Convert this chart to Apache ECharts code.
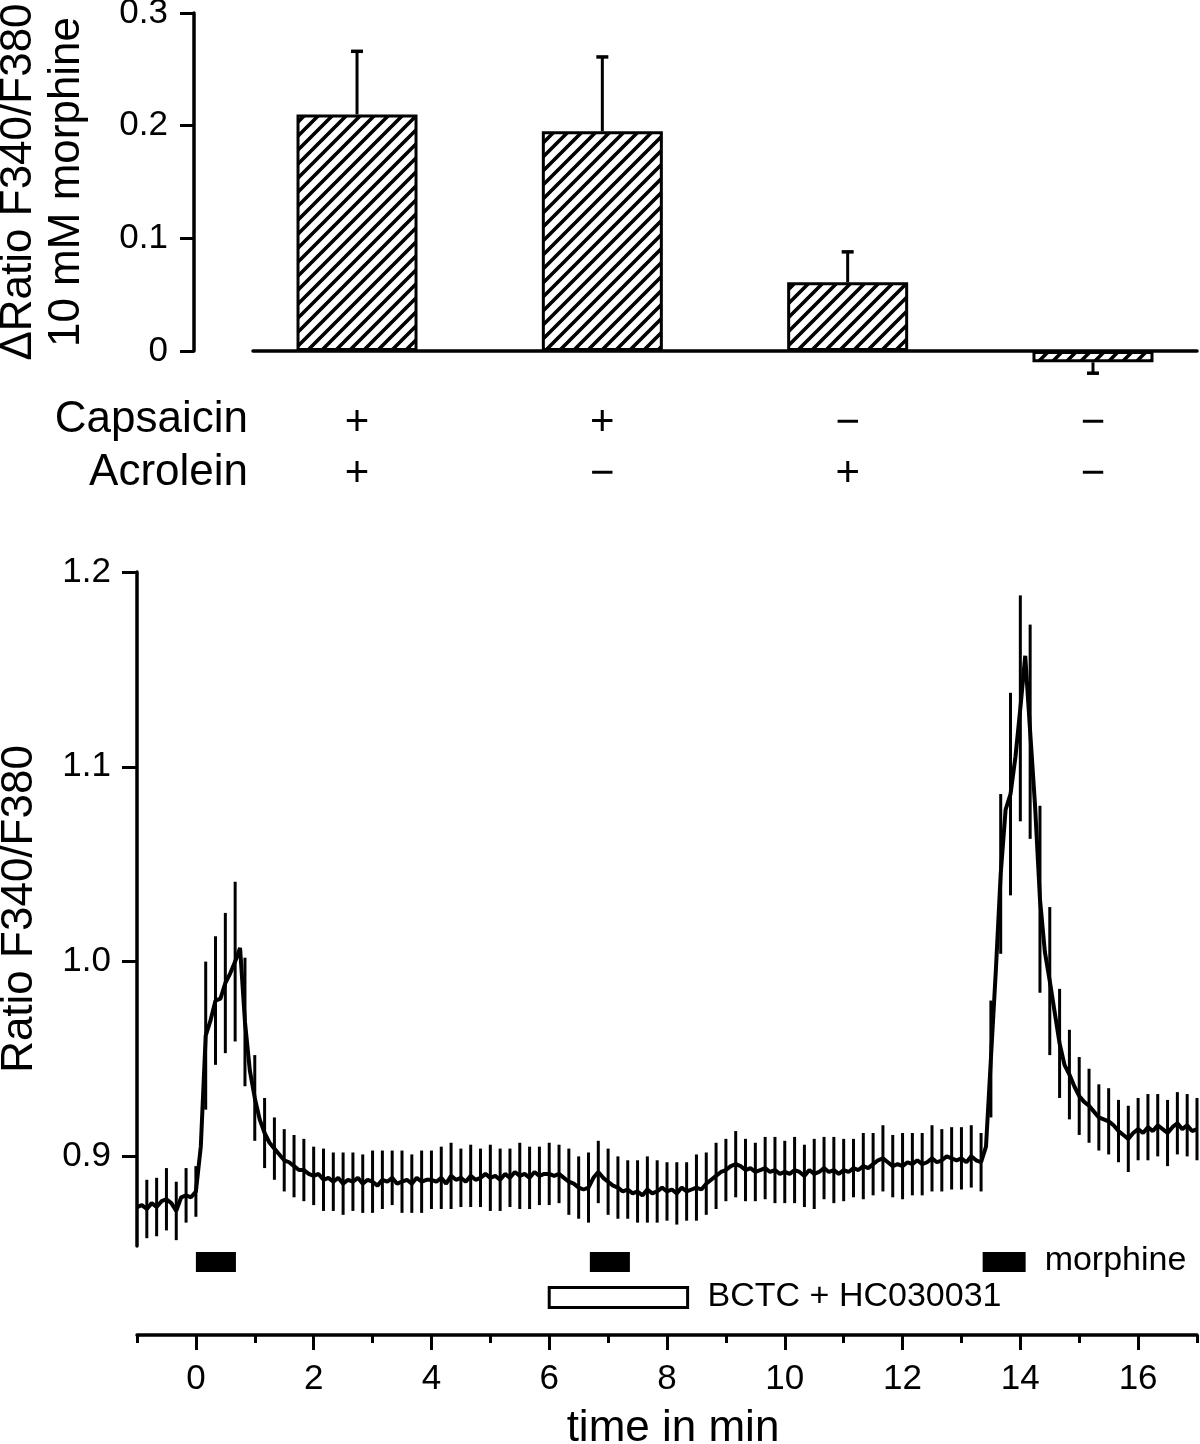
<!DOCTYPE html>
<html>
<head>
<meta charset="utf-8">
<script src="https://cdn.jsdelivr.net/npm/echarts@6/dist/echarts.min.js"></script>
<style>
html,body{margin:0;padding:0;background:#fff;}
#chart{width:1200px;height:1444px;}
</style>
</head>
<body>
<div id="chart"></div>
<script>
// ---------- Top panel data ----------
const capsaicinSigns = ['+', '+', '\u2212', '\u2212'];
const acroleinSigns  = ['+', '\u2212', '+', '\u2212'];
const barMeans  = [0.210, 0.195, 0.061, -0.010];
const barErrors = [0.056, 0.066, 0.027, 0.0097];

// ---------- Bottom panel data ----------
const traceStartMin = -1;
const traceStepMin = 5 / 60;          // one sample every 5 s
const traceValues = [
  0.874, 0.875, 0.873, 0.876, 0.874, 0.877, 0.878, 0.876, 0.872, 0.879, 0.880, 0.879,
  0.882, 0.905, 0.962, 0.970, 0.980, 0.981, 0.989, 0.994, 1.000, 1.007, 0.969, 0.944,
  0.930, 0.919, 0.912, 0.907, 0.904, 0.901, 0.898, 0.897, 0.895, 0.893, 0.893, 0.891,
  0.890, 0.891, 0.888, 0.889, 0.887, 0.889, 0.886, 0.888, 0.887, 0.889, 0.886, 0.888,
  0.887, 0.885, 0.888, 0.887, 0.889, 0.886, 0.887, 0.888, 0.886, 0.889, 0.887, 0.888,
  0.888, 0.887, 0.889, 0.886, 0.890, 0.888, 0.889, 0.887, 0.890, 0.888, 0.889, 0.891,
  0.889, 0.890, 0.888, 0.891, 0.889, 0.892, 0.890, 0.891, 0.889, 0.892, 0.890, 0.891,
  0.891, 0.890, 0.891, 0.889, 0.887, 0.886, 0.884, 0.883, 0.884, 0.889, 0.892, 0.889,
  0.887, 0.885, 0.884, 0.882, 0.883, 0.881, 0.882, 0.880, 0.883, 0.881, 0.882, 0.884,
  0.882, 0.883, 0.881, 0.884, 0.882, 0.883, 0.884, 0.883, 0.886, 0.888, 0.890, 0.892,
  0.893, 0.895, 0.896, 0.895, 0.893, 0.894, 0.892, 0.893, 0.894, 0.892, 0.893, 0.891,
  0.892, 0.891, 0.893, 0.892, 0.890, 0.893, 0.891, 0.892, 0.894, 0.892, 0.893, 0.891,
  0.893, 0.892, 0.894, 0.893, 0.895, 0.894, 0.896, 0.898, 0.899, 0.897, 0.895, 0.896,
  0.895, 0.897, 0.896, 0.898, 0.896, 0.897, 0.899, 0.897, 0.898, 0.900, 0.899, 0.898,
  0.899, 0.897, 0.900, 0.898, 0.897, 0.905, 0.950, 0.995, 1.045, 1.078, 1.086, 1.105,
  1.130, 1.157, 1.118, 1.080, 1.032, 1.005, 0.990, 0.974, 0.958, 0.947, 0.942, 0.936,
  0.931, 0.928, 0.926, 0.923, 0.920, 0.919, 0.918, 0.916, 0.913, 0.911, 0.909, 0.912,
  0.914, 0.912, 0.915, 0.913, 0.916, 0.914, 0.912, 0.915, 0.917, 0.914, 0.916, 0.913,
  0.914
];
// SEM every 10 s, starting at t = -50 s (every second trace sample from index 2)
const semFirstIndex = 2;
const semEvery = 2;
const semValues = [
  0.015, 0.015, 0.016, 0.015, 0.014,
  0.013, 0.038, 0.033, 0.036, 0.041, 0.033,
  0.022, 0.018, 0.016, 0.016, 0.016, 0.016,
  0.015, 0.016, 0.015, 0.016, 0.015, 0.015,
  0.016, 0.015, 0.014, 0.016, 0.015, 0.016,
  0.015, 0.016, 0.017, 0.015, 0.016, 0.015,
  0.017, 0.016, 0.015, 0.017, 0.016, 0.015,
  0.016, 0.015, 0.017, 0.016, 0.018, 0.016,
  0.017, 0.016, 0.015, 0.016, 0.017, 0.016,
  0.015, 0.016, 0.015, 0.017, 0.016, 0.017,
  0.016, 0.017, 0.016, 0.015, 0.016, 0.017,
  0.016, 0.017, 0.016, 0.018, 0.016, 0.017,
  0.016, 0.015, 0.017, 0.016, 0.017, 0.016,
  0.017, 0.016, 0.016, 0.017, 0.016, 0.016,
  0.016, 0.016, 0.015, 0.030, 0.041, 0.052,
  0.058, 0.055, 0.048, 0.038, 0.028, 0.023,
  0.020, 0.019, 0.017, 0.017, 0.016, 0.017,
  0.016, 0.017, 0.016, 0.017, 0.016, 0.016,
  0.016
];
const morphineStart = [0, 6.69, 13.36];
const morphineEnd   = [0.68, 7.37, 14.09];
const bctcStart = [6.0];
const bctcEnd   = [8.35];
const bottomTicks = [0.9, 1.0, 1.1, 1.2];
const timeTicks = [0, 2, 4, 6, 8, 10, 12, 14, 16];

// ---------- helpers ----------
const FONT = '"Liberation Sans", Arial, Helvetica, sans-serif';
const Y2_MIN = 0.854;
const AXW = 3.5;

function makeHatch() {
  const s = 14;
  const c = document.createElement('canvas');
  c.width = s; c.height = s;
  const g = c.getContext('2d');
  g.fillStyle = '#fff'; g.fillRect(0, 0, s, s);
  g.strokeStyle = '#000'; g.lineWidth = 3.6; g.lineCap = 'square';
  g.beginPath();
  g.moveTo(0, s); g.lineTo(s, 0);
  g.moveTo(-s, s); g.lineTo(s, -s);
  g.moveTo(0, 2 * s); g.lineTo(2 * s, 0);
  g.stroke();
  return c;
}

const barData = barMeans.map((v, i) => [i, v]);
const barErrData = barMeans.map((v, i) => [i, v, barErrors[i]]);
const traceData = traceValues.map((v, i) => [traceStartMin + i * traceStepMin, v]);
const semData = semValues.map((s, k) => {
  const idx = semFirstIndex + k * semEvery;
  return [traceData[idx][0], traceValues[idx], s];
});
const morphineData = morphineStart.map((s, i) => [s, morphineEnd[i], Y2_MIN]);
const bctcData = bctcStart.map((s, i) => [s, bctcEnd[i], Y2_MIN]);

const chart = echarts.init(document.getElementById('chart'), null, {renderer: 'canvas'});

const option = {
  animation: false,
  backgroundColor: '#fff',
  textStyle: {fontFamily: FONT, color: '#000'},
  grid: [
    {left: 253, right: 3, top: 13, height: 338, outerBoundsMode: 'none', containLabel: false},
    {left: 137, right: 3, top: 572, height: 674, outerBoundsMode: 'none', containLabel: false}
  ],
  graphic: [
    {type: 'text', style: {text: 'Capsaicin', x: 248, y: 420, align: 'right', verticalAlign: 'middle', font: '44px ' + FONT, fill: '#000'}},
    {type: 'text', style: {text: 'Acrolein', x: 248, y: 473, align: 'right', verticalAlign: 'middle', font: '44px ' + FONT, fill: '#000'}}
  ],
  xAxis: [
    {
      gridIndex: 0, type: 'value', min: -0.424, max: 3.424,
      axisLine: {show: true, onZero: true, lineStyle: {color: '#000', width: AXW}},
      axisTick: {show: false},
      splitLine: {show: false},
      axisLabel: {
        customValues: [0, 1, 2, 3],
        formatter: v => capsaicinSigns[Math.round(v)] + '\n' + acroleinSigns[Math.round(v)],
        fontSize: 42, lineHeight: 51, margin: 47, color: '#000', fontFamily: FONT
      }
    },
    {
      gridIndex: 1, type: 'value', position: 'bottom', min: -1, max: 17, interval: 1, offset: 89,
      axisLine: {show: true, onZero: false, lineStyle: {color: '#000', width: AXW}},
      axisTick: {show: true, length: 8, lineStyle: {color: '#000', width: 3}},
      axisLabel: {show: false},
      splitLine: {show: false}
    },
    {
      gridIndex: 1, type: 'value', position: 'bottom', min: -1, max: 17, offset: 89,
      axisLine: {show: false, onZero: false},
      axisTick: {show: true, customValues: timeTicks, length: 15, lineStyle: {color: '#000', width: 3}},
      axisLabel: {customValues: timeTicks, fontSize: 35, margin: 27, color: '#000', fontFamily: FONT},
      splitLine: {show: false},
      name: 'time in min', nameLocation: 'middle', nameGap: 72,
      nameTextStyle: {fontSize: 44, color: '#000', fontFamily: FONT, padding: [0, 0, 0, 12]}
    }
  ],
  yAxis: [
    {
      gridIndex: 0, type: 'value', min: 0, max: 0.3, interval: 0.1, offset: 59,
      axisLine: {show: true, onZero: false, lineStyle: {color: '#000', width: AXW}},
      axisTick: {show: true, length: 14, lineStyle: {color: '#000', width: 3}},
      splitLine: {show: false},
      axisLabel: {fontSize: 35, margin: 26, color: '#000', fontFamily: FONT,
        formatter: v => (Math.abs(v) < 1e-9 ? '0' : v.toFixed(1))},
      name: '\u0394Ratio F340/F380\n10 mM morphine', nameLocation: 'middle', nameRotate: 90, nameGap: 103,
      nameTextStyle: {fontSize: 44, lineHeight: 48, color: '#000', fontFamily: FONT}
    },
    {
      gridIndex: 1, type: 'value', min: Y2_MIN, max: 1.2,
      axisLine: {show: true, onZero: false, lineStyle: {color: '#000', width: AXW}},
      axisTick: {show: true, customValues: bottomTicks, length: 15, lineStyle: {color: '#000', width: 3}},
      splitLine: {show: false},
      axisLabel: {customValues: bottomTicks, fontSize: 35, margin: 26, color: '#000', fontFamily: FONT,
        formatter: v => v.toFixed(1)},
      name: 'Ratio F340/F380', nameLocation: 'middle', nameRotate: 90, nameGap: 93,
      nameTextStyle: {fontSize: 44, lineHeight: 48, color: '#000', fontFamily: FONT}
    }
  ],
  series: [
    {
      type: 'bar', xAxisIndex: 0, yAxisIndex: 0, data: barData, barWidth: 121, clip: false, silent: true,
      itemStyle: {color: {image: makeHatch(), repeat: 'repeat'}, borderColor: '#000', borderWidth: 3}
    },
    {
      type: 'custom', xAxisIndex: 0, yAxisIndex: 0, data: barErrData, silent: true, z: 5,
      encode: {x: 0, y: 1},
      renderItem: function (params, api) {
        const x = api.value(0), m = api.value(1), e = api.value(2);
        const p0 = api.coord([x, m]);
        const p1 = api.coord([x, m >= 0 ? m + e : m - e]);
        return {type: 'group', children: [
          {type: 'line', shape: {x1: p0[0], y1: p0[1], x2: p1[0], y2: p1[1]}, style: {stroke: '#000', lineWidth: 3}},
          {type: 'line', shape: {x1: p1[0] - 6, y1: p1[1], x2: p1[0] + 6, y2: p1[1]}, style: {stroke: '#000', lineWidth: 3.5}}
        ]};
      }
    },
    {
      type: 'custom', xAxisIndex: 1, yAxisIndex: 1, data: semData, silent: true, z: 3,
      encode: {x: 0, y: 1},
      renderItem: function (params, api) {
        const x = api.value(0), m = api.value(1), s = api.value(2);
        const a = api.coord([x, m - s]), b = api.coord([x, m + s]);
        return {type: 'line', shape: {x1: a[0], y1: a[1], x2: b[0], y2: b[1]}, style: {stroke: '#000', lineWidth: 3}};
      }
    },
    {
      type: 'line', xAxisIndex: 1, yAxisIndex: 1, data: traceData, showSymbol: false, silent: true, z: 4,
      lineStyle: {color: '#000', width: 4}
    },
    {
      type: 'custom', xAxisIndex: 1, yAxisIndex: 1, data: morphineData, silent: true,
      encode: {x: [0, 1], y: 2},
      renderItem: function (params, api) {
        const a = api.coord([api.value(0), api.value(2)]);
        const b = api.coord([api.value(1), api.value(2)]);
        const children = [{type: 'rect', shape: {x: a[0], y: a[1] + 6, width: b[0] - a[0], height: 20}, style: {fill: '#000'}}];
        if (params.dataIndex === morphineStart.length - 1) {
          children.push({type: 'text', style: {text: 'morphine', x: b[0] + 19, y: a[1] + 15, align: 'left', verticalAlign: 'middle', font: '34px ' + FONT, fill: '#000'}});
        }
        return {type: 'group', children: children};
      }
    },
    {
      type: 'custom', xAxisIndex: 1, yAxisIndex: 1, data: bctcData, silent: true,
      encode: {x: [0, 1], y: 2},
      renderItem: function (params, api) {
        const a = api.coord([api.value(0), api.value(2)]);
        const b = api.coord([api.value(1), api.value(2)]);
        return {type: 'group', children: [
          {type: 'rect', shape: {x: a[0], y: a[1] + 41.5, width: b[0] - a[0], height: 20}, style: {fill: '#fff', stroke: '#000', lineWidth: 3}},
          {type: 'text', style: {text: 'BCTC + HC030031', x: b[0] + 20, y: a[1] + 51, align: 'left', verticalAlign: 'middle', font: '34px ' + FONT, fill: '#000'}}
        ]};
      }
    }
  ]
};
chart.setOption(option);
</script>
</body>
</html>
